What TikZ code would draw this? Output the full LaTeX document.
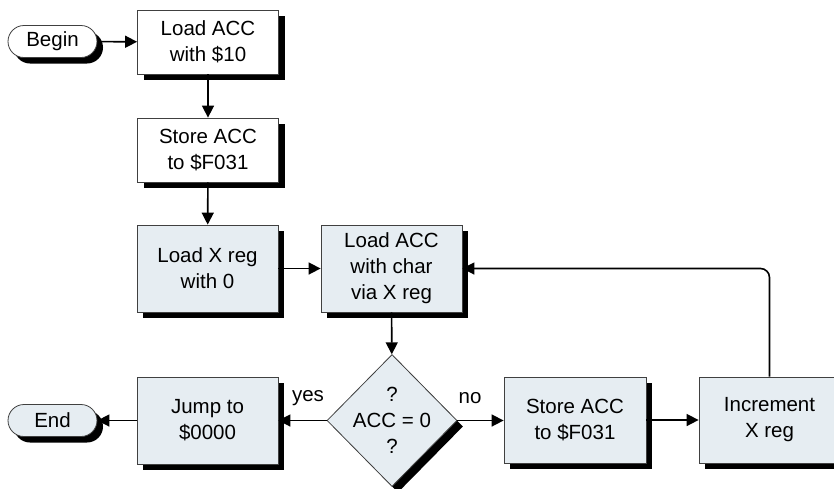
\documentclass[tikz,border=0pt]{standalone}
\usepackage{fontspec}
\setmainfont{Liberation Sans}
\usetikzlibrary{shapes.geometric,shadows,arrows.meta}
\definecolor{boxfill}{HTML}{E6EDF2}
\definecolor{boxline}{HTML}{404040}
\tikzset{
  dshadow/.style={drop shadow={shadow xshift=6pt,shadow yshift=-6pt,opacity=1,fill=black}},
  txt/.style={font=\fontsize{20.5}{26}\selectfont},
  proc/.style={draw=boxline,line width=0.8pt,fill=boxfill,dshadow,align=center,inner sep=0pt,
    minimum width=141pt,minimum height=87pt,txt},
  wproc/.style={proc,fill=white,minimum height=64pt},
  term/.style={draw=boxline,line width=0.8pt,rounded corners=16pt,dshadow,align=center,inner sep=0pt,
    minimum width=89pt,minimum height=32pt,txt},
  decide/.style={diamond,draw=boxline,line width=0.8pt,fill=boxfill,dshadow,inner sep=0pt,
    minimum width=130pt,minimum height=132pt},
  conn/.style={line width=1.6pt,-{Triangle[length=12pt,width=12pt]}},
  lbl/.style={txt,inner sep=0pt}
}
\begin{document}
\begin{tikzpicture}[x=1pt,y=-1pt]
\useasboundingbox (0,0) rectangle (834,488);
\begin{scope}
\clip (0,0) rectangle (834,488);
\node[term,fill=white] (begin) at (52.5,41.5) {Begin};
\node[wproc] (load10) at (208,42) {Load ACC\\with \$10};
\node[wproc] (store1) at (208,150) {Store ACC\\to \$F031};
\node[proc] (loadx) at (207.5,268.5) {Load X reg\\with 0};
\node[proc] (loadc) at (391.5,268.5) {Load ACC\\with char\\via X reg};
\node[decide] (dec) at (392,420.5) {};
\node[lbl,align=center] (dectext) at (392,420.5) {?\\ACC = 0\\?};
\node[proc] (jump) at (207.5,420.5) {Jump to\\\$0000};
\node[term,fill=boxfill] (end) at (52.5,420.5) {End};
\node[proc,minimum width=142pt,minimum height=86pt] (store2) at (575,420) {Store ACC\\to \$F031};
\node[proc,minimum height=86pt] (incr) at (769.5,420) {Increment\\X reg};
\node[lbl] (yes) at (308,398) {yes};
\node[lbl] (no) at (470,398) {no};
\end{scope}
\draw[conn] (begin) -- (load10);
\draw[conn] (load10) -- (store1);
\draw[conn] (store1) -- (loadx);
\draw[conn] (loadx) -- (loadc);
\draw[conn] (loadc) -- (dec);
\draw[conn] (dec.west) -- (jump.east);
\draw[conn] (jump) -- (end);
\draw[conn] (dec.east) -- (dec.east -| store2.west);
\draw[conn] (store2) -- (incr);
\draw[conn,rounded corners=9pt] (incr.north) |- (loadc.east);
\end{tikzpicture}
\end{document}
